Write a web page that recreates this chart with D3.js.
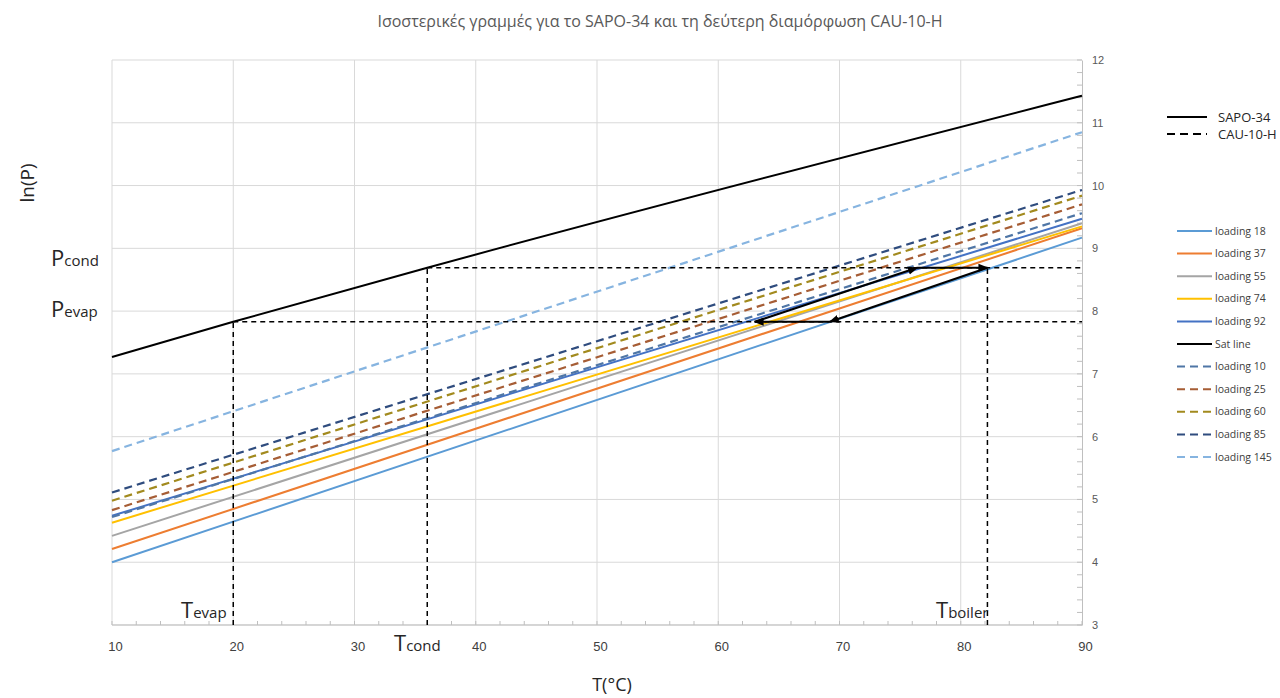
<!DOCTYPE html>
<html>
<head>
<meta charset="utf-8">
<script src="https://cdn.jsdelivr.net/npm/d3@7"></script>
<style>
  body { margin: 0; background: #fff; }
  svg { font-family: "Open Sans", "Noto Sans", sans-serif; }
</style>
</head>
<body>
<div id="container"></div>
<script>
// Data
const tRange = [10, 90];
const sapoNames = ["loading 18", "loading 37", "loading 55", "loading 74", "loading 92"];
const sapoAt10 = [4.00, 4.21, 4.42, 4.63, 4.74];
const sapoAt90 = [9.17, 9.32, 9.40, 9.35, 9.47];
const sapoColors = ["#5b9bd5", "#ed7d31", "#a5a5a5", "#ffc000", "#4472c4"];

const satT = [10, 20, 36, 90];
const satLnP = [7.27, 7.83, 8.69, 11.43];

const cauNames = ["loading 10", "loading 25", "loading 60", "loading 85", "loading 145"];
const cauAt10 = [4.72, 4.83, 4.98, 5.11, 5.77];
const cauAt90 = [9.56, 9.70, 9.84, 9.93, 10.85];
const cauColors = ["#4f76a6", "#a65d35", "#a28a1e", "#2f4c7e", "#86b4e0"];

// cycle points: A -> B -> C -> D -> A
const cycleT = [63.0, 76.4, 82.2, 69.2];
const cycleLnP = [7.83, 8.69, 8.69, 7.83];

const tEvap = 20, tCond = 36, tBoiler = 82.2;
const pEvap = 7.83, pCond = 8.69;

const xTicks = [10, 20, 30, 40, 50, 60, 70, 80, 90];
const yTicks = [3, 4, 5, 6, 7, 8, 9, 10, 11, 12];

const width = 1280, height = 698;
const plot = { left: 112, right: 1082, top: 60, bottom: 625 };

const x = d3.scaleLinear().domain([10, 90]).range([plot.left, plot.right]);
const y = d3.scaleLinear().domain([3, 12]).range([plot.bottom, plot.top]);

const svg = d3.select("#container").append("svg")
  .attr("width", width)
  .attr("height", height);

svg.append("defs").append("marker")
  .attr("id", "arrow")
  .attr("viewBox", "0 0 10 10")
  .attr("refX", 9).attr("refY", 5)
  .attr("markerWidth", 5).attr("markerHeight", 5)
  .attr("markerUnits", "strokeWidth")
  .attr("orient", "auto")
  .append("path")
  .attr("d", "M0,1 L10,5 L0,9 Z")
  .attr("fill", "#000");

// Title
svg.append("text")
  .attr("x", 660).attr("y", 27)
  .attr("text-anchor", "middle")
  .style("font-size", "16px")
  .style("fill", "#595959")
  .text("Ισοστερικές γραμμές για το SAPO-34 και τη δεύτερη διαμόρφωση CAU-10-H");

// Grid
const grid = svg.append("g");
grid.selectAll("line.v").data(xTicks.slice(0, -1)).enter().append("line")
  .attr("x1", d => x(d)).attr("x2", d => x(d))
  .attr("y1", plot.top).attr("y2", plot.bottom)
  .attr("stroke", "#d9d9d9").attr("stroke-width", 1);
grid.selectAll("line.h").data(yTicks).enter().append("line")
  .attr("x1", plot.left).attr("x2", plot.right)
  .attr("y1", d => y(d)).attr("y2", d => y(d))
  .attr("stroke", "#d9d9d9").attr("stroke-width", 1);

// Axes
const xAxis = svg.append("g")
  .attr("transform", `translate(3,${plot.bottom})`)
  .call(d3.axisBottom(x).tickValues(xTicks).tickSize(0).tickPadding(17));
xAxis.select(".domain").remove();
xAxis.selectAll("text").style("font-size", "13px").style("fill", "#404040").style("font-family", "inherit");

svg.append("line")
  .attr("x1", plot.left).attr("x2", plot.right)
  .attr("y1", plot.bottom).attr("y2", plot.bottom)
  .attr("stroke", "#bfbfbf");
svg.selectAll("line.xminor").data(d3.range(10, 90.01, 2)).enter().append("line")
  .attr("x1", d => x(d)).attr("x2", d => x(d))
  .attr("y1", plot.bottom - 4).attr("y2", plot.bottom)
  .attr("stroke", "#bfbfbf");

const yAxis = svg.append("g")
  .attr("transform", `translate(${plot.right},0)`)
  .call(d3.axisRight(y).tickValues(yTicks).tickSize(0).tickPadding(10));
yAxis.select(".domain").attr("stroke", "#bfbfbf");
yAxis.selectAll("text").style("font-size", "11px").style("fill", "#595959").style("font-family", "inherit");
svg.selectAll("line.yminor").data(d3.range(3, 12.01, 0.2)).enter().append("line")
  .attr("x1", plot.right - 5).attr("x2", plot.right)
  .attr("y1", d => y(d)).attr("y2", d => y(d))
  .attr("stroke", "#bfbfbf");

// Series
const line = d3.line().x(d => x(d[0])).y(d => y(d[1]));
const lines = svg.append("g");

sapoNames.forEach((name, i) => {
  lines.append("path")
    .datum([[tRange[0], sapoAt10[i]], [tRange[1], sapoAt90[i]]])
    .attr("d", line)
    .attr("fill", "none")
    .attr("stroke", sapoColors[i])
    .attr("stroke-width", 2);
});

cauNames.forEach((name, i) => {
  lines.append("path")
    .datum([[tRange[0], cauAt10[i]], [tRange[1], cauAt90[i]]])
    .attr("d", line)
    .attr("fill", "none")
    .attr("stroke", cauColors[i])
    .attr("stroke-width", 2.2)
    .attr("stroke-dasharray", "8,5");
});

lines.append("path")
  .datum(satT.map((t, i) => [t, satLnP[i]]))
  .attr("d", d3.line().x(d => x(d[0])).y(d => y(d[1])).curve(d3.curveMonotoneX))
  .attr("fill", "none")
  .attr("stroke", "#000")
  .attr("stroke-width", 2);

// Cycle guide lines (black dashed)
const guides = [
  [[tCond, pCond], [90, pCond]],
  [[tEvap, pEvap], [90, pEvap]],
  [[tEvap, 3], [tEvap, pEvap]],
  [[tCond, 3], [tCond, pCond]],
  [[tBoiler, 3], [tBoiler, pCond]]
];
svg.append("g").selectAll("path").data(guides).enter().append("path")
  .attr("d", line)
  .attr("fill", "none")
  .attr("stroke", "#000")
  .attr("stroke-width", 1.5)
  .attr("stroke-dasharray", "5,4");

// Cycle arrows
svg.append("g").selectAll("path").data(cycleT).enter().append("path")
  .attr("d", (d, i) => {
    const j = (i + 1) % cycleT.length;
    return line([[cycleT[i], cycleLnP[i]], [cycleT[j], cycleLnP[j]]]);
  })
  .attr("fill", "none")
  .attr("stroke", "#000")
  .attr("stroke-width", 2)
  .attr("marker-end", "url(#arrow)");

// Axis titles
svg.append("text")
  .attr("transform", "translate(34,183) rotate(-90)")
  .attr("text-anchor", "middle")
  .style("font-size", "19px")
  .style("fill", "#262626")
  .text("ln(P)");

svg.append("text")
  .attr("x", 612).attr("y", 691)
  .attr("text-anchor", "middle")
  .style("font-size", "18px")
  .style("fill", "#262626")
  .text("T(°C)");

// Big labels
function bigLabel(xp, yp, main, sub) {
  const t = svg.append("text").attr("x", xp).attr("y", yp).style("fill", "#262626");
  t.append("tspan").style("font-size", "22px").text(main);
  t.append("tspan").style("font-size", "15px").text(sub);
}
bigLabel(51, 266, "P", "cond");
bigLabel(51, 317, "P", "evap");
bigLabel(181, 618, "T", "evap");
bigLabel(394, 651, "T", "cond");
bigLabel(936, 618, "T", "boiler");

// Legend: material
const matLegend = [
  { label: "SAPO-34", dash: null },
  { label: "CAU-10-H", dash: "8,5" }
];
const ml = svg.append("g").attr("transform", "translate(1167,117)");
ml.selectAll("line").data(matLegend).enter().append("line")
  .attr("x1", 0).attr("x2", 40)
  .attr("y1", (d, i) => i * 17).attr("y2", (d, i) => i * 17)
  .attr("stroke", "#000").attr("stroke-width", 2)
  .attr("stroke-dasharray", d => d.dash);
ml.selectAll("text").data(matLegend).enter().append("text")
  .attr("x", 51).attr("y", (d, i) => i * 17)
  .attr("dy", "0.35em")
  .style("font-size", "13px")
  .style("fill", "#262626")
  .text(d => d.label);

// Legend: series
const seriesLegend = sapoNames.map((n, i) => ({ label: n, color: sapoColors[i], dash: null }))
  .concat([{ label: "Sat line", color: "#000", dash: null }])
  .concat(cauNames.map((n, i) => ({ label: n, color: cauColors[i], dash: "8,5" })));

const sl = svg.append("g").attr("transform", "translate(1177,231)");
sl.selectAll("line").data(seriesLegend).enter().append("line")
  .attr("x1", 0).attr("x2", 35)
  .attr("y1", (d, i) => i * 22.6).attr("y2", (d, i) => i * 22.6)
  .attr("stroke", d => d.color).attr("stroke-width", 2)
  .attr("stroke-dasharray", d => d.dash);
sl.selectAll("text").data(seriesLegend).enter().append("text")
  .attr("x", 38).attr("y", (d, i) => i * 22.6)
  .attr("dy", "0.35em")
  .style("font-size", "10.5px")
  .style("fill", "#404040")
  .text(d => d.label);
</script>
</body>
</html>
